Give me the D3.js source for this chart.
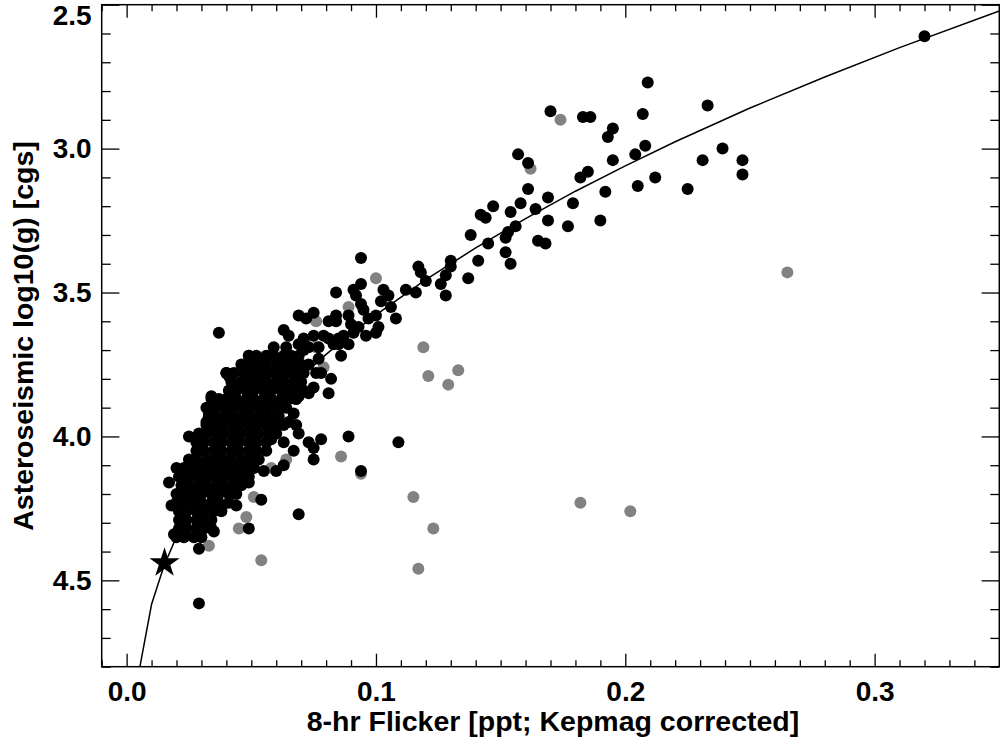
<!DOCTYPE html>
<html><head><meta charset="utf-8">
<script src="https://cdn.jsdelivr.net/npm/d3@7"></script>
<style>html,body{margin:0;padding:0;background:#fff}svg{display:block}</style>
</head><body>
<svg id="chart" width="1000" height="744"></svg>
<script>
// ---- data ----
const xMajorTicks = [0, 0.1, 0.2, 0.3];
const xTickLabels = ["0.0", "0.1", "0.2", "0.3"];
const yMajorTicks = [2.5, 3.0, 3.5, 4.0, 4.5];
const yTickLabels = ["2.5", "3.0", "3.5", "4.0", "4.5"];
const xTitle = "8-hr Flicker [ppt; Kepmag corrected]";
const yTitle = "Asteroseismic log10(g) [cgs]";

// [flicker, logg] — black points
const mainSample = [
[0.320,2.61],[0.209,2.77],[0.170,2.87],[0.183,2.89],[0.186,2.89],[0.207,2.88],[0.233,2.85],[0.195,2.93],[0.193,2.96],[0.208,2.99],
[0.204,3.02],[0.195,3.04],[0.239,3.00],[0.231,3.04],[0.247,3.04],[0.247,3.09],[0.185,3.08],[0.182,3.10],[0.212,3.10],[0.157,3.02],
[0.161,3.05],[0.161,3.14],[0.169,3.17],[0.158,3.19],[0.179,3.19],[0.164,3.21],[0.154,3.22],[0.192,3.15],[0.205,3.13],[0.225,3.14],
[0.169,3.25],[0.177,3.27],[0.190,3.25],[0.156,3.27],[0.153,3.29],[0.152,3.31],[0.165,3.32],[0.168,3.33],[0.147,3.20],[0.142,3.23],
[0.144,3.24],[0.138,3.30],[0.145,3.33],[0.152,3.36],[0.154,3.40],[0.141,3.39],[0.130,3.39],[0.130,3.41],[0.117,3.41],[0.118,3.43],
[0.120,3.46],[0.128,3.44],[0.126,3.47],[0.128,3.51],[0.137,3.45],[0.112,3.49],[0.116,3.50],[0.094,3.38],[0.094,3.47],[0.091,3.49],
[0.092,3.51],[0.084,3.50],[0.103,3.49],[0.105,3.51],[0.102,3.53],[0.106,3.55],[0.094,3.54],[0.095,3.56],[0.069,3.58],[0.075,3.57],
[0.072,3.59],[0.081,3.60],[0.084,3.58],[0.084,3.60],[0.089,3.58],[0.090,3.61],[0.093,3.62],[0.097,3.59],[0.100,3.58],[0.101,3.62],
[0.100,3.64],[0.108,3.59],[0.063,3.63],[0.065,3.65],[0.071,3.66],[0.075,3.65],[0.079,3.65],[0.081,3.66],[0.077,3.69],[0.073,3.69],
[0.071,3.70],[0.069,3.68],[0.085,3.66],[0.087,3.65],[0.089,3.68],[0.091,3.64],[0.096,3.65],[0.085,3.68],[0.086,3.72],[0.064,3.69],
[0.063,3.73],[0.067,3.73],[0.069,3.76],[0.073,3.75],[0.077,3.73],[0.078,3.78],[0.082,3.80],[0.075,3.83],[0.073,3.85],[0.069,3.86],
[0.065,3.87],[0.081,3.85],[0.071,3.84],[0.037,3.64],[0.059,3.69],[0.049,3.72],[0.052,3.73],[0.056,3.73],[0.071,3.67],[0.083,3.68],
[0.076,3.78],[0.040,3.78],[0.041,3.79],[0.064,3.76],[0.060,3.78],[0.067,3.78],[0.069,3.80],[0.068,3.87],[0.034,3.86],[0.040,3.87],
[0.043,3.84],[0.048,3.81],[0.053,3.80],[0.067,3.92],[0.033,3.92],[0.032,3.95],[0.037,3.94],[0.040,3.94],[0.065,3.95],[0.068,3.96],
[0.073,4.02],[0.078,4.01],[0.075,4.04],[0.075,4.08],[0.067,4.05],[0.063,4.02],[0.058,4.01],[0.025,4.00],[0.029,4.04],[0.026,4.10],
[0.023,4.13],[0.060,4.12],[0.055,4.12],[0.020,4.11],[0.017,4.16],[0.018,4.24],[0.024,4.21],[0.019,4.34],[0.022,4.30],[0.023,4.34],
[0.029,4.39],[0.035,4.33],[0.029,4.58],[0.049,4.32],[0.054,4.22],[0.049,4.16],[0.044,4.24],[0.038,4.25],[0.063,4.10],[0.069,4.27],
[0.089,4.00],[0.109,4.02],[0.094,4.12],[0.069,3.99]
];

// dense core of the black cloud: [logg, [flicker values]]
const coreRows = [
[3.72,[0.049,0.052,0.056,0.059,0.063,0.066,0.069]],
[3.75,[0.046,0.049,0.053,0.056,0.060,0.063,0.067,0.070]],
[3.78,[0.040,0.043,0.047,0.050,0.054,0.057,0.061,0.064,0.068,0.071]],
[3.81,[0.042,0.046,0.049,0.053,0.056,0.060,0.063,0.067,0.070]],
[3.84,[0.041,0.044,0.048,0.051,0.055,0.058,0.062,0.065,0.069]],
[3.87,[0.034,0.037,0.041,0.044,0.048,0.051,0.055,0.058,0.062,0.065,0.068]],
[3.90,[0.032,0.035,0.039,0.042,0.046,0.049,0.053,0.056,0.060,0.064]],
[3.93,[0.033,0.036,0.040,0.043,0.047,0.050,0.054,0.057,0.061]],
[3.96,[0.032,0.035,0.038,0.042,0.045,0.049,0.052,0.056,0.059,0.063]],
[3.99,[0.029,0.032,0.036,0.039,0.043,0.046,0.050,0.053,0.057,0.060]],
[4.02,[0.028,0.031,0.035,0.038,0.042,0.045,0.049,0.052,0.056]],
[4.05,[0.028,0.031,0.035,0.038,0.042,0.045,0.049,0.052,0.056]],
[4.08,[0.025,0.028,0.032,0.035,0.039,0.042,0.046,0.049,0.053]],
[4.11,[0.023,0.026,0.030,0.033,0.037,0.040,0.044,0.047,0.051]],
[4.14,[0.021,0.024,0.028,0.031,0.035,0.038,0.042,0.045,0.049]],
[4.17,[0.022,0.025,0.029,0.032,0.036,0.039,0.043,0.046]],
[4.20,[0.020,0.023,0.027,0.030,0.034,0.037,0.041,0.044]],
[4.23,[0.020,0.023,0.027,0.030,0.034,0.037,0.041]],
[4.26,[0.021,0.024,0.028,0.031,0.035,0.038]],
[4.29,[0.021,0.024,0.028,0.031,0.034]],
[4.32,[0.021,0.024,0.028,0.031,0.034]],
[4.35,[0.020,0.023,0.027,0.030]]
];

// grey points
const flaggedSample = [
[0.174,2.90],[0.162,3.07],[0.265,3.43],[0.100,3.45],[0.089,3.55],[0.076,3.60],[0.076,3.69],[0.079,3.76],[0.119,3.69],[0.121,3.79],
[0.129,3.82],[0.133,3.77],[0.086,4.07],[0.094,4.13],[0.115,4.21],[0.123,4.32],[0.117,4.46],[0.182,4.23],[0.202,4.26],[0.064,4.08],
[0.051,4.21],[0.045,4.32],[0.048,4.28],[0.033,4.38],[0.054,4.43],[0.058,4.11]
];

const sunPoint = [0.0152, 4.44];

const fitFlicker = [0.005,0.01,0.015,0.02,0.025,0.03,0.04,0.05,0.06,0.07,0.08,0.09,0.10,0.12,0.14,0.16,0.18,0.20,0.22,0.25,0.28,0.31,0.35];
const fitLogg    = [4.815,4.583,4.449,4.348,4.265,4.193,4.071,3.967,3.875,3.792,3.715,3.644,3.578,3.455,3.345,3.243,3.148,3.060,2.976,2.859,2.751,2.649,2.522];

// ---- drawing ----
const FONT = "'Liberation Sans', Arial, Helvetica, sans-serif";
const svg = d3.select("#chart");
svg.append("rect").attr("width", 1000).attr("height", 744).attr("fill", "#fff");

const plot = {left: 101.7, right: 999.3, top: 4.7, bottom: 666.7};
const x = d3.scaleLinear().domain([-0.01, 0.35]).range([plot.left, plot.right]);
const y = d3.scaleLinear().domain([2.5, 4.8]).range([plot.top, plot.bottom]);

svg.append("clipPath").attr("id", "clip").append("rect")
  .attr("x", plot.left).attr("y", plot.top)
  .attr("width", plot.right - plot.left).attr("height", plot.bottom - plot.top);

const xMinor = d3.range(-1, 36).map(i => i / 100).filter(v => !xMajorTicks.some(m => Math.abs(m - v) < 1e-9));
const yMinor = d3.range(25, 49).map(i => i / 10).filter(v => !yMajorTicks.some(m => Math.abs(m - v) < 1e-9));

function styleAxis(g) {
  g.select(".domain").remove();
  g.selectAll("line").attr("stroke", "#000").attr("stroke-width", 1.3);
  g.selectAll("text").attr("font-family", FONT).attr("font-weight", "bold")
    .attr("font-size", 28).attr("fill", "#000");
}

// bottom
svg.append("g").attr("transform", `translate(0,${plot.bottom})`)
  .call(d3.axisBottom(x).tickValues(xMinor).tickSize(-6.5).tickFormat("")).call(styleAxis);
svg.append("g").attr("transform", `translate(0,${plot.bottom})`)
  .call(d3.axisBottom(x).tickValues(xMajorTicks).tickSize(-13).tickPadding(14)
    .tickFormat((d, i) => xTickLabels[i])).call(styleAxis);
// top
svg.append("g").attr("transform", `translate(0,${plot.top})`)
  .call(d3.axisTop(x).tickValues(xMinor).tickSize(-6.5).tickFormat("")).call(styleAxis);
svg.append("g").attr("transform", `translate(0,${plot.top})`)
  .call(d3.axisTop(x).tickValues(xMajorTicks).tickSize(-13).tickFormat("")).call(styleAxis);
// left
svg.append("g").attr("transform", `translate(${plot.left},0)`)
  .call(d3.axisLeft(y).tickValues(yMinor).tickSize(-9).tickFormat("")).call(styleAxis);
const yAxisG = svg.append("g").attr("transform", `translate(${plot.left},0)`)
  .call(d3.axisLeft(y).tickValues(yMajorTicks).tickSize(-17.7).tickPadding(10)
    .tickFormat((d, i) => yTickLabels[i])).call(styleAxis);
yAxisG.selectAll("text").filter(d => d === 2.5).attr("y", 11);
// right
svg.append("g").attr("transform", `translate(${plot.right},0)`)
  .call(d3.axisRight(y).tickValues(yMinor).tickSize(-9).tickFormat("")).call(styleAxis);
svg.append("g").attr("transform", `translate(${plot.right},0)`)
  .call(d3.axisRight(y).tickValues(yMajorTicks).tickSize(-17.7).tickFormat("")).call(styleAxis);

// frame
svg.append("rect").attr("x", plot.left).attr("y", plot.top)
  .attr("width", plot.right - plot.left).attr("height", plot.bottom - plot.top)
  .attr("fill", "none").attr("stroke", "#000").attr("stroke-width", 1.5);

// points
const pts = svg.append("g").attr("clip-path", "url(#clip)");
pts.selectAll("circle.flag").data(flaggedSample).join("circle").attr("class", "flag")
  .attr("cx", d => x(d[0])).attr("cy", d => y(d[1])).attr("r", 6).attr("fill", "#828282");

const coreFlat = coreRows.flatMap(([g, fs]) => fs.map(f => [f, g]));
pts.selectAll("circle.core").data(coreFlat).join("circle").attr("class", "core")
  .attr("cx", d => x(d[0])).attr("cy", d => y(d[1])).attr("r", 6).attr("fill", "#000");
pts.selectAll("circle.main").data(mainSample).join("circle").attr("class", "main")
  .attr("cx", d => x(d[0])).attr("cy", d => y(d[1])).attr("r", 6).attr("fill", "#000");

// fit curve
const fitData = fitFlicker.map((f, i) => [f, fitLogg[i]]);
svg.append("path").datum(fitData).attr("clip-path", "url(#clip)")
  .attr("d", d3.line().x(d => x(d[0])).y(d => y(d[1])))
  .attr("fill", "none").attr("stroke", "#000").attr("stroke-width", 1.5);

// sun star
svg.append("path").attr("d", d3.symbol(d3.symbolStar, 280)())
  .attr("transform", `translate(${x(sunPoint[0])},${y(sunPoint[1])})`).attr("fill", "#000");

// titles
svg.append("text").attr("x", 553).attr("y", 731).attr("text-anchor", "middle")
  .attr("font-family", FONT).attr("font-weight", "bold").attr("font-size", 28.5).text(xTitle);
svg.append("text").attr("transform", "translate(33,336) rotate(-90)").attr("text-anchor", "middle")
  .attr("font-family", FONT).attr("font-weight", "bold").attr("font-size", 28.5).text(yTitle);
</script>
</body></html>
